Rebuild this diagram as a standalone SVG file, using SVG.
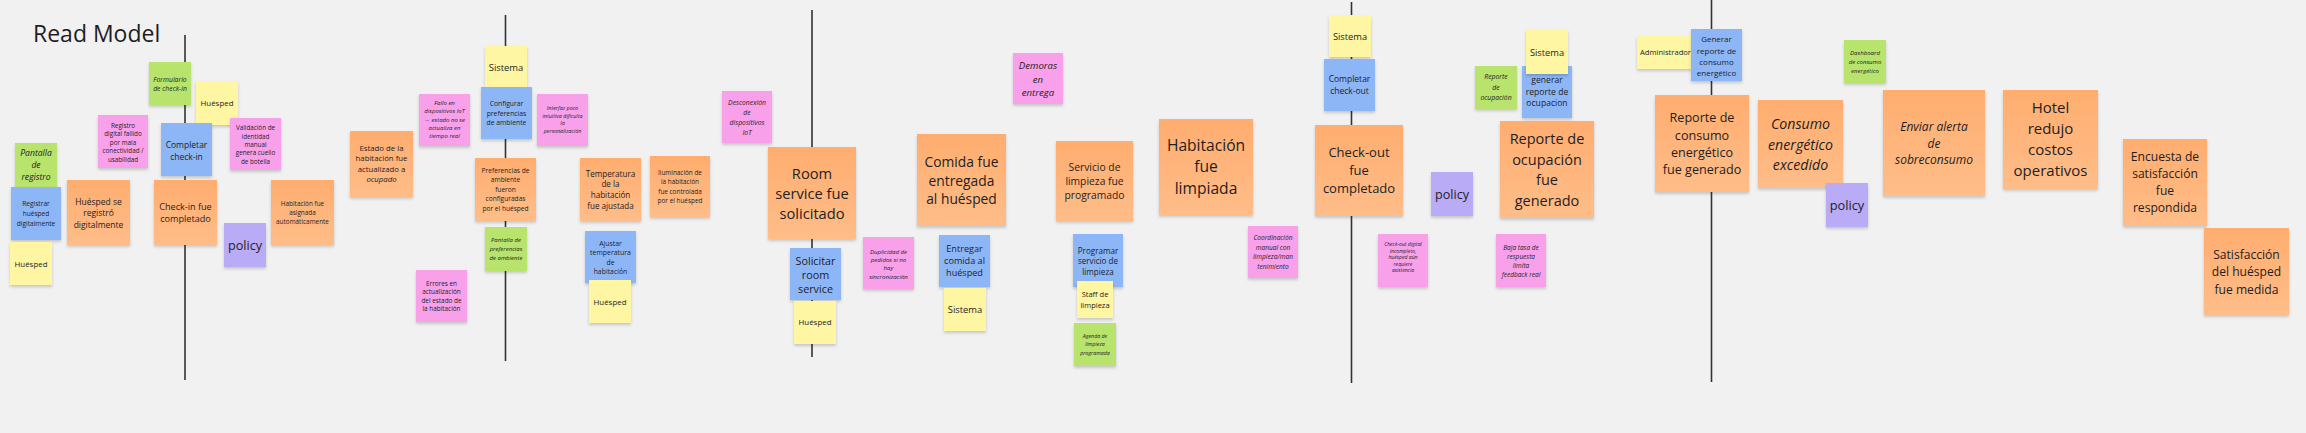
<svg xmlns="http://www.w3.org/2000/svg" width="2306" height="433" viewBox="0 0 2306 433">
<defs>
<filter id="sh" x="-10%" y="-10%" width="120%" height="130%"><feDropShadow dx="0" dy="2" stdDeviation="1.4" flood-color="#000" flood-opacity="0.18"/></filter>
<linearGradient id="og" x1="0" y1="0" x2="0" y2="1"><stop offset="0" stop-color="#ffad6f"/><stop offset="1" stop-color="#ffbd89"/></linearGradient>
</defs>
<style>
.s{filter:url(#sh)}
.o{fill:url(#og)}
.b{fill:#8db6f7}
.y{fill:#fff6a3}
.p{fill:#f8a1ea}
.g{fill:#b8e36d}
.v{fill:#b9abf6}
text{font-family:"Open Sans","Liberation Sans",sans-serif;fill:#1e1e1e;text-anchor:middle;dominant-baseline:central}
.i{font-style:italic}
.pv line{stroke:#333;stroke-width:1.6}
</style>
<rect x="0" y="0" width="2306" height="433" fill="#f1f1f1"/>
<text x="33" y="42" font-size="23" style="text-anchor:start;dominant-baseline:alphabetic">Read Model</text>
<g id="pivotal-lines" class="pv">
<line x1="185" y1="35" x2="185" y2="380"/>
<line x1="505.5" y1="15" x2="505.5" y2="361"/>
<line x1="812" y1="10" x2="812" y2="357"/>
<line x1="1351.5" y1="2" x2="1351.5" y2="383"/>
<line x1="1711.5" y1="0" x2="1711.5" y2="382"/>
</g>
<g id="n01"><rect class="s g" x="149" y="62" width="42" height="43"/><text class="i" font-size="6.8"><tspan x="170" y="79.2">Formulario</tspan><tspan x="170" y="87.9">de check-in</tspan></text></g>
<g id="n02"><rect class="s y" x="196" y="81" width="42" height="44"/><text font-size="7.9"><tspan x="217" y="103">Huésped</tspan></text></g>
<g id="n03"><rect class="s p" x="98" y="115" width="50" height="53"/><text font-size="6.3"><tspan x="123" y="124.5">Registro</tspan><tspan x="123" y="133">digital fallido</tspan><tspan x="123" y="141.5">por mala</tspan><tspan x="123" y="150">conectividad /</tspan><tspan x="123" y="158.5">usabilidad</tspan></text></g>
<g id="n04"><rect class="s b" x="161" y="123" width="51" height="53"/><text font-size="8.5"><tspan x="186.5" y="143.5">Completar</tspan><tspan x="186.5" y="155.5">check-in</tspan></text></g>
<g id="n05"><rect class="s p" x="230" y="118" width="51" height="52"/><text font-size="6.3"><tspan x="255.5" y="127.2">Validación de</tspan><tspan x="255.5" y="135.6">identidad</tspan><tspan x="255.5" y="144">manual</tspan><tspan x="255.5" y="152.4">genera cuello</tspan><tspan x="255.5" y="160.8">de botella</tspan></text></g>
<g id="n06"><rect class="s g" x="15" y="143" width="42" height="44"/><text class="i" font-size="8.6"><tspan x="36" y="153.3">Pantalla</tspan><tspan x="36" y="165">de</tspan><tspan x="36" y="176.7">registro</tspan></text></g>
<g id="n07"><rect class="s b" x="11" y="187" width="50" height="53"/><text font-size="6.6"><tspan x="36" y="203">Registrar</tspan><tspan x="36" y="213">huésped</tspan><tspan x="36" y="223">digitalmente</tspan></text></g>
<g id="n08"><rect class="s o" x="67" y="180" width="63" height="65"/><text font-size="8.5"><tspan x="98.5" y="200.6">Huésped se</tspan><tspan x="98.5" y="212.3">registró</tspan><tspan x="98.5" y="224">digitalmente</tspan></text></g>
<g id="n09"><rect class="s o" x="154" y="180" width="63" height="65"/><text font-size="9.1"><tspan x="185.5" y="205.7">Check-in fue</tspan><tspan x="185.5" y="218.4">completado</tspan></text></g>
<g id="n10"><rect class="s o" x="271" y="180" width="63" height="65"/><text font-size="6.4"><tspan x="302.5" y="203.2">Habitación fue</tspan><tspan x="302.5" y="212">asignada</tspan><tspan x="302.5" y="220.8">automáticamente</tspan></text></g>
<g id="n11"><rect class="s v" x="224" y="223" width="42" height="44"/><text font-size="12.6"><tspan x="245" y="245">policy</tspan></text></g>
<g id="n12"><rect class="s y" x="10" y="242" width="42" height="43"/><text font-size="7.9"><tspan x="31" y="263.5">Huésped</tspan></text></g>
<g id="n13"><rect class="s y" x="485" y="46" width="42" height="43"/><text font-size="9.4"><tspan x="506" y="67">Sistema</tspan></text></g>
<g id="n14"><rect class="s b" x="481" y="87" width="51" height="52"/><text font-size="6.8"><tspan x="506.5" y="103">Configurar</tspan><tspan x="506.5" y="112.5">preferencias</tspan><tspan x="506.5" y="122">de ambiente</tspan></text></g>
<g id="n15"><rect class="s p" x="419" y="94" width="51" height="52"/><text class="i" font-size="6"><tspan x="444.5" y="103.1">Fallo en</tspan><tspan x="444.5" y="111.4">dispositivos IoT</tspan><tspan x="444.5" y="119.7">→ estado no se</tspan><tspan x="444.5" y="128">actualiza en</tspan><tspan x="444.5" y="136.3">tiempo real</tspan></text></g>
<g id="n16"><rect class="s p" x="537" y="94" width="51" height="52"/><text class="i" font-size="5.4"><tspan x="562.5" y="108.1">Interfaz poco</tspan><tspan x="562.5" y="115.7">intuitiva dificulta</tspan><tspan x="562.5" y="123.3">la</tspan><tspan x="562.5" y="130.9">personalización</tspan></text></g>
<g id="n17"><rect class="s o" x="350" y="131" width="63" height="66"/><text font-size="7.8"><tspan x="381.5" y="147.6">Estado de la</tspan><tspan x="381.5" y="158.1">habitación fue</tspan><tspan x="381.5" y="168.6">actualizado a</tspan><tspan x="381.5" y="179.1" class="i">ocupado</tspan></text></g>
<g id="n18"><rect class="s o" x="475" y="158" width="61" height="63"/><text font-size="6.6"><tspan x="505.5" y="169.7">Preferencias de</tspan><tspan x="505.5" y="179.2">ambiente</tspan><tspan x="505.5" y="188.7">fueron</tspan><tspan x="505.5" y="198.2">configuradas</tspan><tspan x="505.5" y="207.7">por el huésped</tspan></text></g>
<g id="n19"><rect class="s o" x="580" y="158" width="61" height="63"/><text font-size="8.1"><tspan x="610.5" y="172.5">Temperatura</tspan><tspan x="610.5" y="183.3">de la</tspan><tspan x="610.5" y="194.1">habitación</tspan><tspan x="610.5" y="204.9">fue ajustada</tspan></text></g>
<g id="n20"><rect class="s o" x="650" y="156" width="60" height="61"/><text font-size="6.4"><tspan x="680" y="172.2">Iluminación de</tspan><tspan x="680" y="181.4">la habitación</tspan><tspan x="680" y="190.6">fue controlada</tspan><tspan x="680" y="199.8">por el huésped</tspan></text></g>
<g id="n21"><rect class="s g" x="485" y="227" width="42" height="44"/><text class="i" font-size="6"><tspan x="506" y="239.9">Pantalla de</tspan><tspan x="506" y="248.7">preferencias</tspan><tspan x="506" y="257.5">de ambiente</tspan></text></g>
<g id="n22"><rect class="s b" x="585" y="231" width="51" height="52"/><text font-size="6.9"><tspan x="610.5" y="242.9">Ajustar</tspan><tspan x="610.5" y="252.2">temperatura</tspan><tspan x="610.5" y="261.5">de</tspan><tspan x="610.5" y="270.8">habitación</tspan></text></g>
<g id="n23"><rect class="s y" x="589" y="280" width="42" height="43"/><text font-size="7.9"><tspan x="610" y="301.5">Huésped</tspan></text></g>
<g id="n24"><rect class="s p" x="416" y="270" width="51" height="52"/><text font-size="6.4"><tspan x="441.5" y="283.2">Errores en</tspan><tspan x="441.5" y="291.4">actualización</tspan><tspan x="441.5" y="299.6">del estado de</tspan><tspan x="441.5" y="307.8">la habitación</tspan></text></g>
<g id="n25"><rect class="s p" x="722" y="91" width="50" height="52"/><text class="i" font-size="6.8"><tspan x="747" y="102.1">Desconexión</tspan><tspan x="747" y="111.9">de</tspan><tspan x="747" y="121.7">dispositivos</tspan><tspan x="747" y="131.5">IoT</tspan></text></g>
<g id="n26"><rect class="s o" x="768" y="147" width="88" height="92"/><text font-size="14.7"><tspan x="812" y="172.5">Room</tspan><tspan x="812" y="192.5">service fue</tspan><tspan x="812" y="212.5">solicitado</tspan></text></g>
<g id="n27"><rect class="s o" x="917" y="134" width="89" height="92"/><text font-size="13.8"><tspan x="961.5" y="160.8">Comida fue</tspan><tspan x="961.5" y="179.5">entregada</tspan><tspan x="961.5" y="198.2">al huésped</tspan></text></g>
<g id="n28"><rect class="s b" x="790" y="248" width="51" height="52"/><text font-size="10.8"><tspan x="815.5" y="260.3">Solicitar</tspan><tspan x="815.5" y="274.3">room</tspan><tspan x="815.5" y="288.3">service</tspan></text></g>
<g id="n32"><rect class="s y" x="794" y="301" width="42" height="43"/><text font-size="7.9"><tspan x="815" y="322.3">Huésped</tspan></text></g>
<g id="n29"><rect class="s p" x="863" y="237" width="51" height="52"/><text class="i" font-size="6.1"><tspan x="888.5" y="250.9">Duplicidad de</tspan><tspan x="888.5" y="259.1">pedidos si no</tspan><tspan x="888.5" y="267.3">hay</tspan><tspan x="888.5" y="275.5">sincronización</tspan></text></g>
<g id="n30"><rect class="s b" x="939" y="235" width="51" height="52"/><text font-size="9.1"><tspan x="964.5" y="247.7">Entregar</tspan><tspan x="964.5" y="260">comida al</tspan><tspan x="964.5" y="272.3">huésped</tspan></text></g>
<g id="n31"><rect class="s y" x="944" y="288" width="42" height="43"/><text font-size="9.4"><tspan x="965" y="309.3">Sistema</tspan></text></g>
<g id="n33"><rect class="s p" x="1013" y="53" width="50" height="51"/><text class="i" font-size="9.6"><tspan x="1038" y="64.7">Demoras</tspan><tspan x="1038" y="78.5">en</tspan><tspan x="1038" y="92.3">entrega</tspan></text></g>
<g id="n34"><rect class="s o" x="1056" y="141" width="77" height="80"/><text font-size="10.3"><tspan x="1094.5" y="166.8">Servicio de</tspan><tspan x="1094.5" y="181">limpieza fue</tspan><tspan x="1094.5" y="195.2">programado</tspan></text></g>
<g id="n35"><rect class="s o" x="1159" y="119" width="94" height="96"/><text font-size="15.6"><tspan x="1206" y="145">Habitación</tspan><tspan x="1206" y="166.3">fue</tspan><tspan x="1206" y="187.6">limpiada</tspan></text></g>
<g id="n36"><rect class="s b" x="1073" y="234" width="50" height="53"/><text font-size="8.1"><tspan x="1098" y="249.6">Programar</tspan><tspan x="1098" y="260.4">servicio de</tspan><tspan x="1098" y="271.2">limpieza</tspan></text></g>
<g id="n37"><rect class="s y" x="1077" y="281" width="36" height="37"/><text font-size="7.5"><tspan x="1095" y="294.1">Staff de</tspan><tspan x="1095" y="304.8">limpieza</tspan></text></g>
<g id="n38"><rect class="s g" x="1074" y="323" width="42" height="43"/><text class="i" font-size="5.3"><tspan x="1095" y="336">Agenda de</tspan><tspan x="1095" y="344.3">limpieza</tspan><tspan x="1095" y="352.6">programada</tspan></text></g>
<g id="n39"><rect class="s p" x="1248" y="226" width="50" height="52"/><text class="i" font-size="6.6"><tspan x="1273" y="237.4">Coordinación</tspan><tspan x="1273" y="246.8">manual con</tspan><tspan x="1273" y="256.2">limpieza/man</tspan><tspan x="1273" y="265.6">tenimiento</tspan></text></g>
<g id="n40"><rect class="s y" x="1329" y="15" width="42" height="42"/><text font-size="9.3"><tspan x="1350" y="35.8">Sistema</tspan></text></g>
<g id="n41"><rect class="s b" x="1324" y="59" width="51" height="52"/><text font-size="8.5"><tspan x="1349.5" y="78.4">Completar</tspan><tspan x="1349.5" y="90.1">check-out</tspan></text></g>
<g id="n42"><rect class="s o" x="1315" y="125" width="88" height="91"/><text font-size="13"><tspan x="1359" y="152">Check-out</tspan><tspan x="1359" y="169.8">fue</tspan><tspan x="1359" y="187.6">completado</tspan></text></g>
<g id="n43"><rect class="s v" x="1431" y="172" width="42" height="44"/><text font-size="12.6"><tspan x="1452" y="194.3">policy</tspan></text></g>
<g id="n44"><rect class="s p" x="1378" y="234" width="50" height="53"/><text class="i" font-size="5.1"><tspan x="1403" y="244">Check-out digital</tspan><tspan x="1403" y="250.6">incompleto,</tspan><tspan x="1403" y="257.2">huésped aún</tspan><tspan x="1403" y="263.8">requiere</tspan><tspan x="1403" y="270.4">asistencia</tspan></text></g>
<g id="n45"><rect class="s g" x="1475" y="66" width="42" height="43"/><text class="i" font-size="6.8"><tspan x="1496" y="76.3">Reporte</tspan><tspan x="1496" y="86.8">de</tspan><tspan x="1496" y="97.3">ocupación</tspan></text></g>
<g id="n46"><rect class="s b" x="1522" y="66" width="50" height="52"/><text font-size="8.6"><tspan x="1547" y="80.4">generar</tspan><tspan x="1547" y="91.7">reporte de</tspan><tspan x="1547" y="103">ocupacion</tspan></text></g>
<g id="n47"><rect class="s y" x="1526" y="30" width="42" height="44"/><text font-size="9.3"><tspan x="1547" y="51.7">Sistema</tspan></text></g>
<g id="n48"><rect class="s o" x="1500" y="121" width="94" height="97"/><text font-size="14.5"><tspan x="1547" y="138">Reporte de</tspan><tspan x="1547" y="158.7">ocupación</tspan><tspan x="1547" y="179.4">fue</tspan><tspan x="1547" y="200.1">generado</tspan></text></g>
<g id="n49"><rect class="s p" x="1496" y="234" width="50" height="53"/><text class="i" font-size="6.5"><tspan x="1521" y="247">Baja tasa de</tspan><tspan x="1521" y="256">respuesta</tspan><tspan x="1521" y="265">limita</tspan><tspan x="1521" y="274">feedback real</tspan></text></g>
<g id="n50"><rect class="s y" x="1637" y="36" width="59" height="33"/><text font-size="7.6"><tspan x="1665.5" y="52.3">Administrador</tspan></text></g>
<g id="n51"><rect class="s b" x="1691" y="29" width="51" height="52"/><text font-size="8"><tspan x="1716.5" y="38.4">Generar</tspan><tspan x="1716.5" y="49.5">reporte de</tspan><tspan x="1716.5" y="60.6">consumo</tspan><tspan x="1716.5" y="71.7">energético</tspan></text></g>
<g id="n52"><rect class="s g" x="1844" y="40" width="42" height="43"/><text class="i" font-size="6.1"><tspan x="1865" y="52.3">Dashboard</tspan><tspan x="1865" y="61">de consumo</tspan><tspan x="1865" y="69.7">energético</tspan></text></g>
<g id="n53"><rect class="s o" x="1655" y="95" width="94" height="97"/><text font-size="12.6"><tspan x="1702" y="117.4">Reporte de</tspan><tspan x="1702" y="134.6">consumo</tspan><tspan x="1702" y="151.8">energético</tspan><tspan x="1702" y="169">fue generado</tspan></text></g>
<g id="n54"><rect class="s o" x="1758" y="100" width="85" height="88"/><text class="i" font-size="14.2"><tspan x="1800.5" y="123.2">Consumo</tspan><tspan x="1800.5" y="143.5">energético</tspan><tspan x="1800.5" y="163.8">excedido</tspan></text></g>
<g id="n55"><rect class="s v" x="1826" y="183" width="42" height="44"/><text font-size="12.8"><tspan x="1847" y="204.5">policy</tspan></text></g>
<g id="n56"><rect class="s o" x="1883" y="90" width="102" height="106"/><text class="i" font-size="12"><tspan x="1934" y="126.2">Enviar alerta</tspan><tspan x="1934" y="142.7">de</tspan><tspan x="1934" y="159.2">sobreconsumo</tspan></text></g>
<g id="n57"><rect class="s o" x="2003" y="90" width="95" height="99"/><text font-size="15"><tspan x="2050.5" y="107">Hotel</tspan><tspan x="2050.5" y="127.9">redujo</tspan><tspan x="2050.5" y="148.8">costos</tspan><tspan x="2050.5" y="169.7">operativos</tspan></text></g>
<g id="n58"><rect class="s o" x="2123" y="139" width="84" height="87"/><text font-size="12.1"><tspan x="2165" y="156.3">Encuesta de</tspan><tspan x="2165" y="173.1">satisfacción</tspan><tspan x="2165" y="189.9">fue</tspan><tspan x="2165" y="206.7">respondida</tspan></text></g>
<g id="n59"><rect class="s o" x="2204" y="228" width="85" height="87"/><text font-size="12.1"><tspan x="2246.5" y="254">Satisfacción</tspan><tspan x="2246.5" y="271.3">del huésped</tspan><tspan x="2246.5" y="288.6">fue medida</tspan></text></g>
</svg>
